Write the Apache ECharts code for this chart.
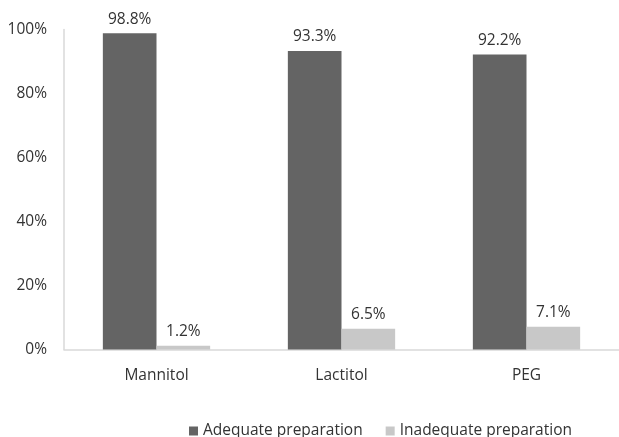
<!DOCTYPE html>
<html><head><meta charset="utf-8">
<script src="https://cdn.jsdelivr.net/npm/echarts@6/dist/echarts.min.js"></script>
<style>html,body{margin:0;padding:0;background:#fff}#c{width:619px;height:437px}</style>
</head><body><div id="c"></div>
<script>
const categories = ['Mannitol', 'Lactitol', 'PEG'];
const adequate = [98.8, 93.3, 92.2];
const inadequate = [1.2, 6.5, 7.1];
const yTicks = [0, 20, 40, 60, 80, 100];
const seriesNames = ['Adequate preparation', 'Inadequate preparation'];

const font = 'Open Sans';
const fs = 15.5;
const chart = echarts.init(document.getElementById('c'), null, {renderer: 'canvas'});
chart.setOption({
  animation: false,
  textStyle: {fontFamily: font},
  grid: {left: 64, right: -5, top: 29.5, bottom: 87.5, containLabel: false},
  legend: {
    data: seriesNames, left: 189, top: 423, itemWidth: 9, itemHeight: 9, itemGap: 23,
    icon: 'rect', padding: 0,
    textStyle: {fontFamily: font, fontSize: fs, color: '#333'}
  },
  xAxis: {
    type: 'category', data: categories,
    axisLine: {show: true, lineStyle: {color: '#d9d9d9', width: 1.5}},
    axisTick: {show: false},
    axisLabel: {fontFamily: font, fontSize: fs, color: '#333', margin: 18}
  },
  yAxis: {
    type: 'value', min: 0, max: 100, interval: 20,
    axisLine: {show: true, lineStyle: {color: '#d9d9d9', width: 1.5}},
    axisTick: {show: false},
    splitLine: {show: false},
    axisLabel: {fontFamily: font, fontSize: fs, color: '#333', margin: 17, padding: [4, 0, 0, 0],
      formatter: v => yTicks.includes(v) ? v + '%' : ''}
  },
  series: [
    {name: seriesNames[0], type: 'bar', data: adequate, barGap: '0%', barCategoryGap: '42%',
     itemStyle: {color: '#646464'},
     label: {show: true, position: 'top', distance: 6, fontFamily: font, fontSize: fs, color: '#333', formatter: p => p.value.toFixed(1) + '%'}},
    {name: seriesNames[1], type: 'bar', data: inadequate, barGap: '0%', barCategoryGap: '42%',
     itemStyle: {color: '#c8c8c8'},
     label: {show: true, position: 'top', distance: 6, fontFamily: font, fontSize: fs, color: '#333', formatter: p => p.value.toFixed(1) + '%'}}
  ]
});
</script></body></html>
